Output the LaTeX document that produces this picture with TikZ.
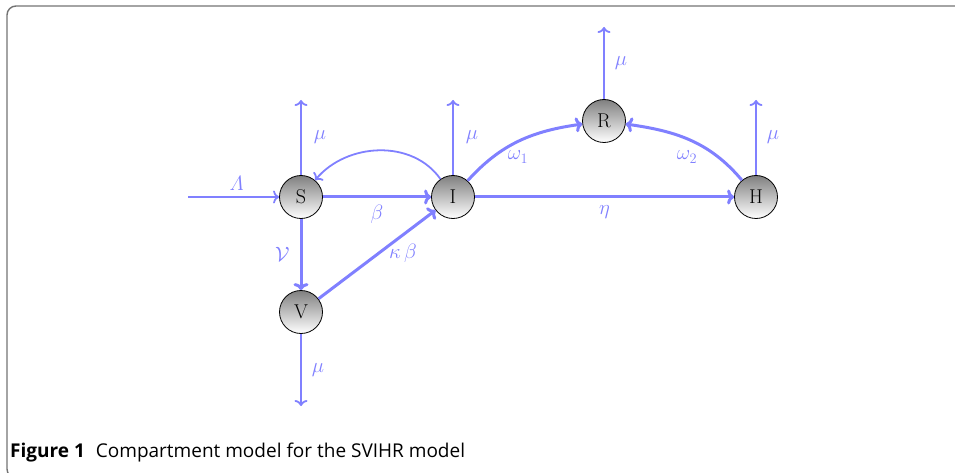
\documentclass[tikz,border=0pt]{standalone}
\usepackage{amsmath}
\usepackage{fontspec}
\newfontfamily\capfont{Open Sans}
\usetikzlibrary{arrows.meta}
\begin{document}
\begin{tikzpicture}[x=1pt,y=-1pt,
  comp/.style={circle,draw=black,line width=0.8pt,minimum size=43pt,inner sep=0pt,
    top color=black!50,bottom color=white,font=\fontsize{20}{22}\selectfont},
  thickflow/.style={draw=blue!50,line width=3pt,-{To[length=7pt,width=15pt]}},
  thinflow/.style={draw=blue!50,line width=1.8pt,-{To[length=6pt,width=13pt]}},
  lab/.style={text=blue!50,font=\fontsize{20}{22}\selectfont,inner sep=1pt}]
\useasboundingbox (0,0) rectangle (955,473);
\draw[black!55,line width=1.4pt,rounded corners=9pt] (975,478) -- (7,478) -- (7,6) -- (975,6);

\node[comp] (S) at (301,197) {S};
\node[comp] (I) at (453,197) {I};
\node[comp] (R) at (604,121) {R};
\node[comp] (H) at (756,197) {H};
\node[comp] (V) at (301,312) {V};

\coordinate (lin) at (188,197);
\coordinate (muS) at (301,100);
\coordinate (muI) at (453,100);
\coordinate (muR) at (604,27);
\coordinate (muH) at (756,100);
\coordinate (muV) at (301,406);

\draw[thinflow] (lin) -- node[lab,above=5pt,xshift=3pt] {$\varLambda$} (S);
\draw[thinflow] (S) -- node[lab,right=11pt] {$\mu$} (muS);
\draw[thinflow] (I) -- node[lab,right=11pt] {$\mu$} (muI);
\draw[thinflow] (R) -- node[lab,right=9pt] {$\mu$} (muR);
\draw[thinflow] (H) -- node[lab,right=9pt] {$\mu$} (muH);
\draw[thinflow] (V) -- node[lab,right=9pt] {$\mu$} (muV);
\draw[thinflow] (I) to[out=125,in=50] (S);

\draw[thickflow] (S) -- node[lab,below=6pt] {$\beta$} (I);
\draw[thickflow] (S) -- node[lab,left=9pt] {$\mathcal{V}$} (V);
\draw[thickflow] (V) -- (I);
\draw[thickflow] (I) -- node[lab,below=6pt] {$\eta$} (H);
\draw[thickflow] (I) to[out=48,in=188] (R);
\draw[thickflow] (H) to[out=130,in=-8] (R);

\node[lab] (kb) at (403,253) {$\kappa\,\beta$};
\node[lab] (w1) at (518,157) {$\omega_1$};
\node[lab] (w2) at (687,157) {$\omega_2$};

\node[anchor=base west,inner sep=0pt,font=\capfont\fontsize{19}{22}\selectfont] (cap) at (10,457)
  {\textbf{Figure 1}\hspace{11pt}Compartment model for the SVIHR model};
\end{tikzpicture}
\end{document}
